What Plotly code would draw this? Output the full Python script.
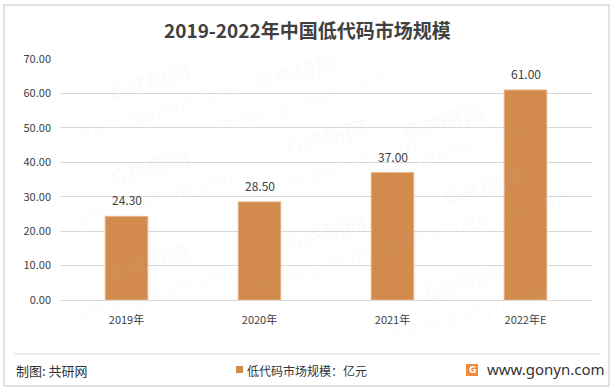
import plotly.graph_objects as go

categories = ["2019年", "2020年", "2021年", "2022年E"]
values = [24.30, 28.50, 37.00, 61.00]
y_ticks = [0, 10, 20, 30, 40, 50, 60, 70]
title_text = "2019-2022年中国低代码市场规模"
legend_text = "低代码市场规模：亿元"
source_text = "制图: 共研网"
site_text = "www.gonyn.com"

BAR = "#D38B4D"
TXT = "#404040"
FONT = "Noto Sans CJK SC"

W, H = 614, 392
L, R, T, B = 60, 22, 59, 92
pw, ph = W - L - R, H - T - B

def px(x):
    return (x - L) / pw

def py(y):
    return (H - B - y) / ph

fig = go.Figure()
fig.add_trace(go.Bar(
    x=categories, y=values, marker=dict(color=BAR, line=dict(color="#E8B48A", width=1)),
    width=0.32, showlegend=False, hoverinfo="skip",
))

shapes = [
    dict(type="rect", xref="paper", yref="paper", x0=px(4), x1=px(609), y0=py(5), y1=py(386),
         line=dict(color="#D9D9D9", width=1.5), layer="below"),
    dict(type="line", xref="paper", yref="paper", x0=px(14), x1=px(600), y0=py(354), y1=py(354),
         line=dict(color="#D9D9D9", width=1)),
    dict(type="rect", xref="paper", yref="paper", x0=px(236), x1=px(243), y0=py(366), y1=py(373),
         fillcolor=BAR, line=dict(width=0)),
    dict(type="rect", xref="paper", yref="paper", x0=px(466), x1=px(478), y0=py(364), y1=py(376),
         fillcolor="#F08A3C", line=dict(width=0)),
]

annotations = []
# faint watermarks
for (wx, wy) in [(60, 40), (300, 30), (540, 80), (60, 180), (330, 150), (580, 200), (60, 330), (330, 300), (560, 350)]:
    annotations.append(dict(text="<b>G共研网</b><br>www.gonyn.com", x=px(wx), y=py(wy), xref="paper", yref="paper",
                            showarrow=False, textangle=-15,
                            font=dict(family=FONT, size=22, color="rgba(200,200,200,0.06)")))

# data labels
for c, v in zip(categories, values):
    annotations.append(dict(text=f"{v:.2f}", x=c, y=v, xref="x", yref="y", showarrow=False,
                            yanchor="bottom", yshift=6, font=dict(family=FONT, size=12, color=TXT)))

annotations += [
    dict(text=f"<b>{title_text}</b>", x=px(307), y=py(30), xref="paper", yref="paper",
         showarrow=False, font=dict(family=FONT, size=19, color=TXT), xanchor="center", yanchor="middle"),
    dict(text=source_text, x=px(14), y=py(370), xref="paper", yref="paper", showarrow=False,
         font=dict(family=FONT, size=13, color="#333333"), xanchor="left", yanchor="middle"),
    dict(text=legend_text, x=px(245), y=py(370), xref="paper", yref="paper", showarrow=False,
         font=dict(family=FONT, size=12, color="#333333"), xanchor="left", yanchor="middle"),
    dict(text="<b>G</b>", x=px(472), y=py(370), xref="paper", yref="paper", showarrow=False,
         font=dict(family="DejaVu Sans", size=9, color="white"), xanchor="center", yanchor="middle"),
    dict(text=site_text, x=px(485), y=py(369), xref="paper", yref="paper", showarrow=False,
         font=dict(family="Noto Sans", size=15, color="#333333"), xanchor="left", yanchor="middle"),
]

fig.update_layout(
    width=W, height=H, margin=dict(l=L, r=R, t=T, b=B),
    paper_bgcolor="white", plot_bgcolor="white",
    shapes=shapes, annotations=annotations, bargap=0.68,
    xaxis=dict(showline=True, linecolor="#D9D9D9", ticks="", showgrid=False, ticklabelstandoff=10,
               tickfont=dict(family=FONT, size=11, color=TXT)),
    yaxis=dict(range=[0, 70], tickvals=y_ticks, tickformat=".2f", showgrid=True, gridcolor="#D9D9D9",
               zeroline=False, showline=False, ticks="", ticklabelstandoff=8,
               tickfont=dict(family=FONT, size=11, color=TXT)),
)

fig.write_html("out.html", config={"displayModeBar": False},
               post_script="document.body.style.margin='0';document.body.style.overflow='hidden';")
